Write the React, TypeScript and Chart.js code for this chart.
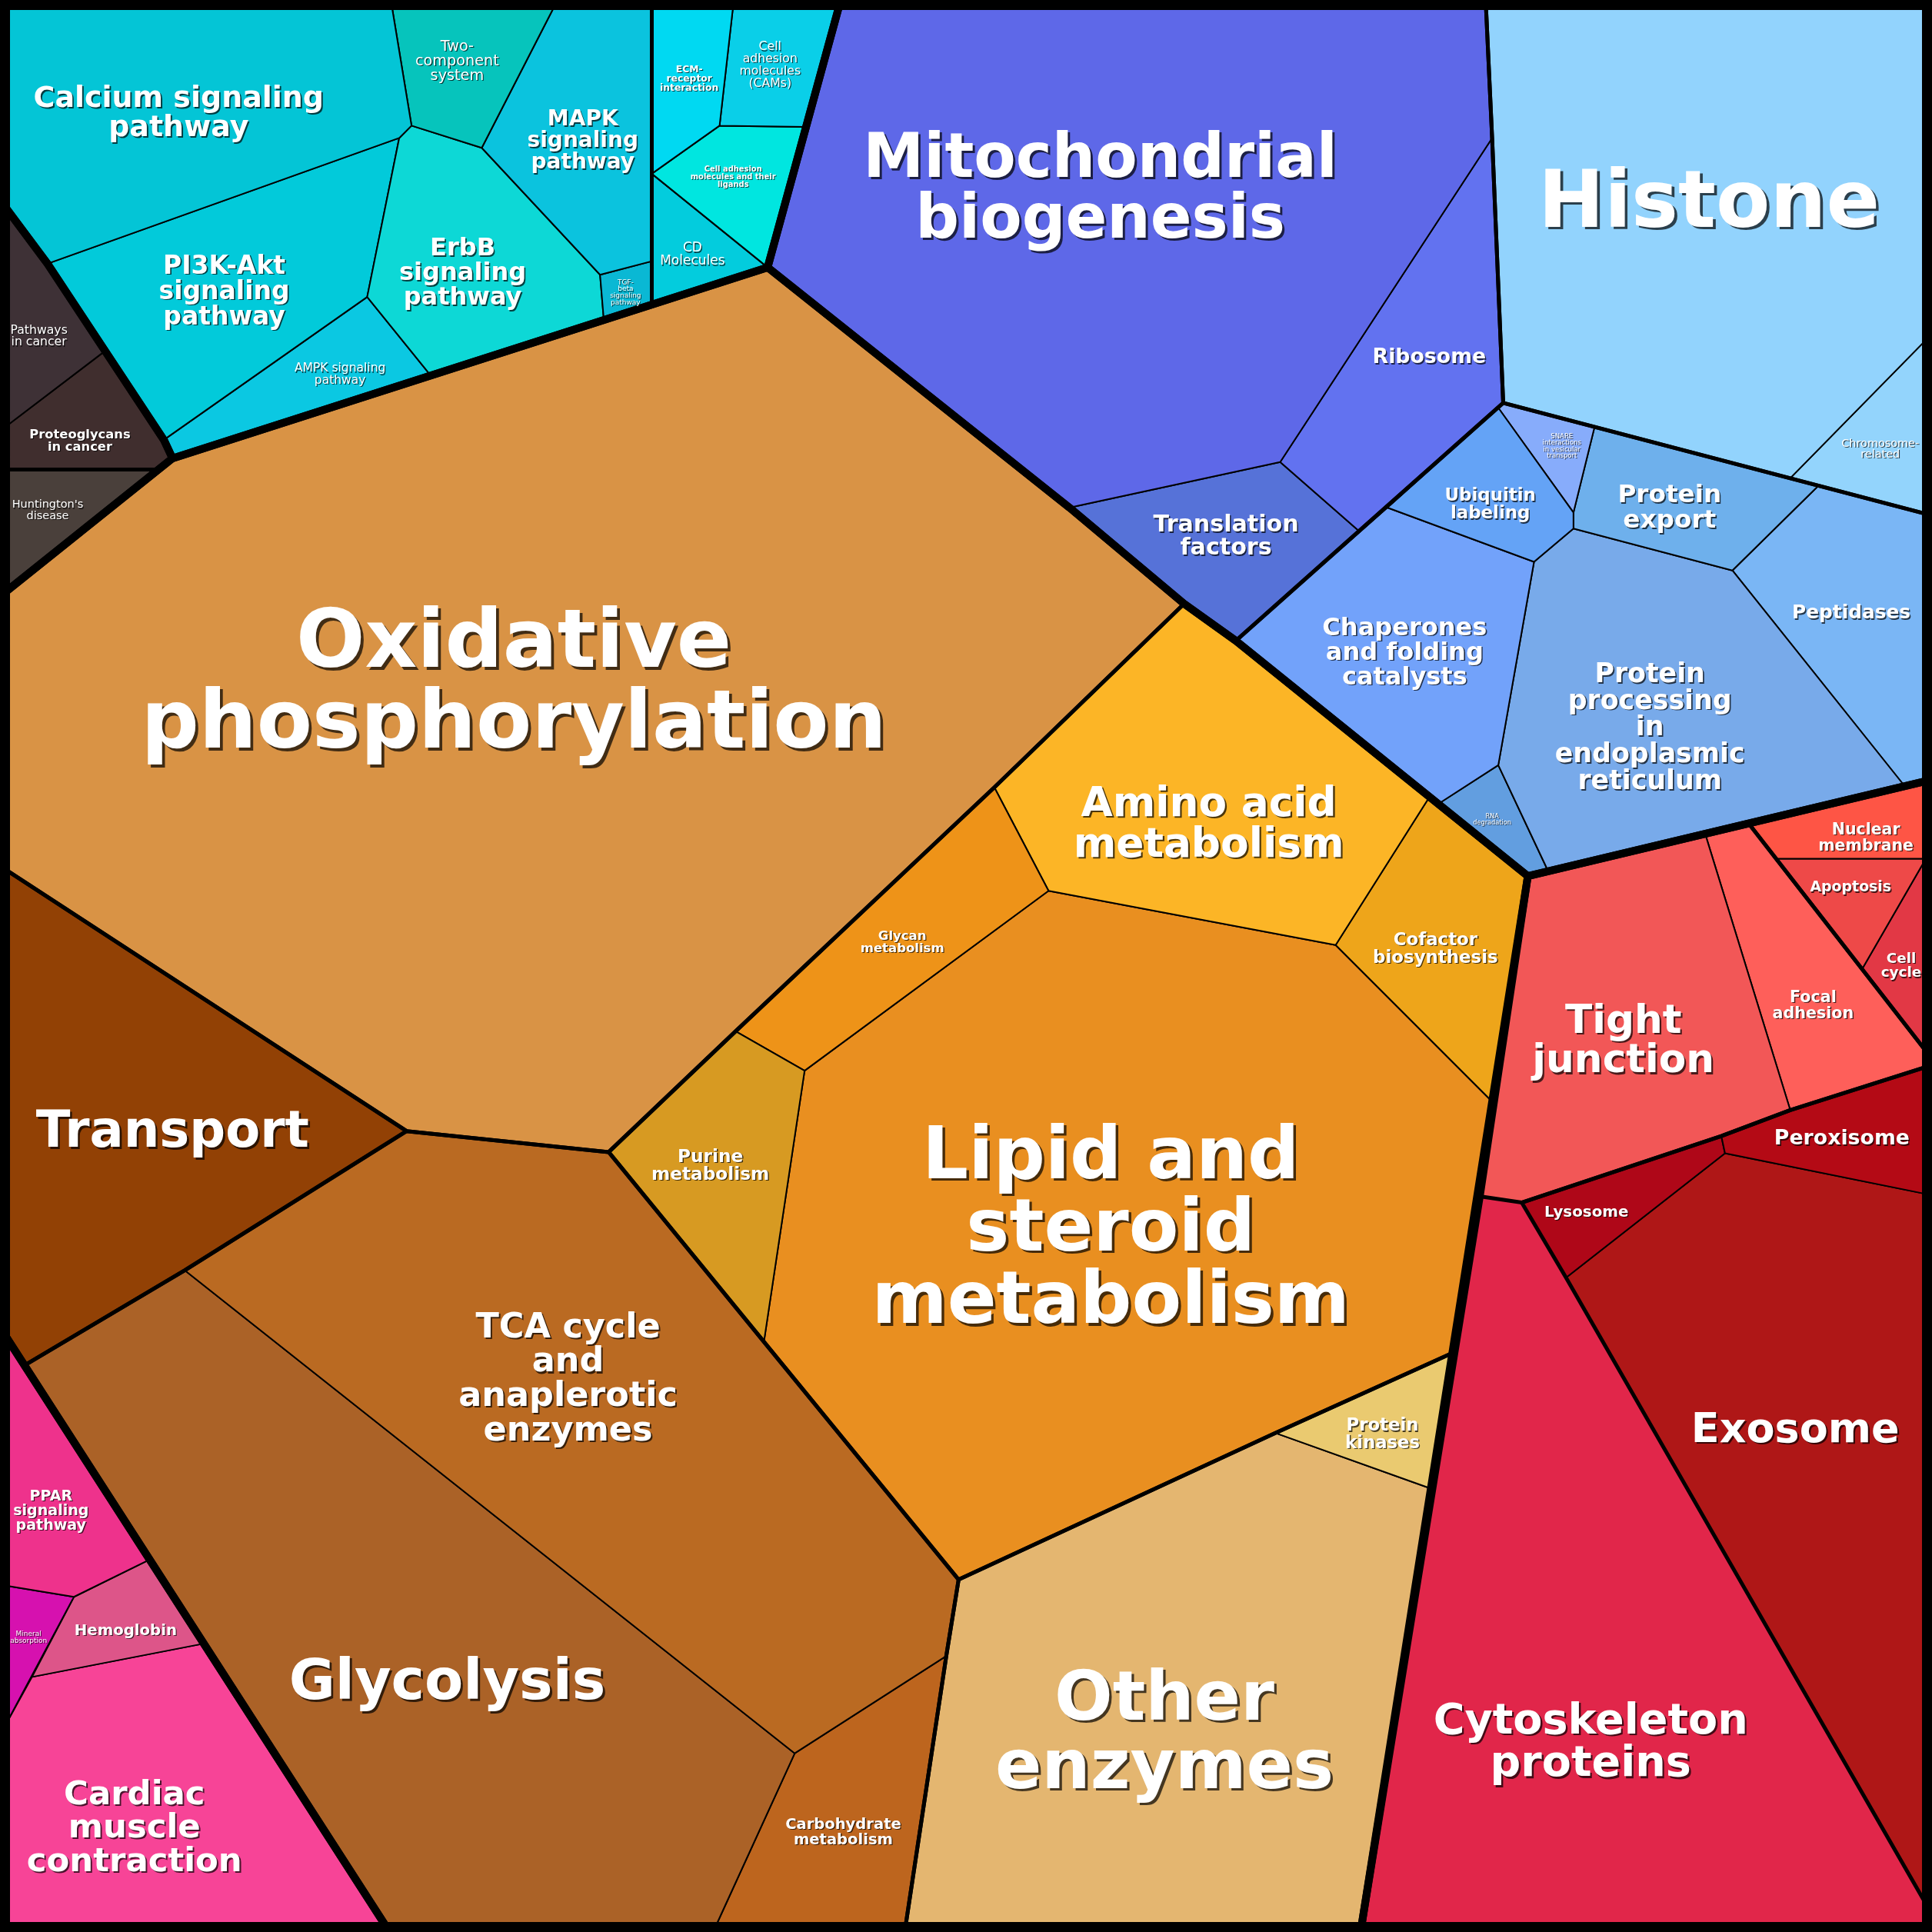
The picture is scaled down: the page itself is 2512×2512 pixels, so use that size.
import React, { useEffect, useRef } from "react";
import { Chart, registerables } from "chart.js";

Chart.register(...registerables);

type Pt = [number, number];

// Frame of the Voronoi treemap in data units (0..1568 on both axes, y downward)
const axisMax = 1568;

const cellLabels: string[] = [
  "Calcium signaling\npathway",
  "Two-\ncomponent\nsystem",
  "MAPK\nsignaling\npathway",
  "TGF-\nbeta\nsignaling\npathway",
  "ErbB\nsignaling\npathway",
  "PI3K-Akt\nsignaling\npathway",
  "AMPK signaling\npathway",
  "ECM-\nreceptor\ninteraction",
  "Cell\nadhesion\nmolecules\n(CAMs)",
  "Cell adhesion\nmolecules and their\nligands",
  "CD\nMolecules",
  "Pathways\nin cancer",
  "Proteoglycans\nin cancer",
  "Huntington's\ndisease",
  "Mitochondrial\nbiogenesis",
  "Ribosome",
  "Translation\nfactors",
  "Histone",
  "Chromosome-\nrelated",
  "Ubiquitin\nlabeling",
  "SNARE\ninteractions\nin vesicular\ntransport",
  "Protein\nexport",
  "Chaperones\nand folding\ncatalysts",
  "Protein\nprocessing\nin\nendoplasmic\nreticulum",
  "Peptidases",
  "RNA\ndegradation",
  "Oxidative\nphosphorylation",
  "Transport",
  "TCA cycle\nand\nanaplerotic\nenzymes",
  "Glycolysis",
  "Carbohydrate\nmetabolism",
  "Purine\nmetabolism",
  "Glycan\nmetabolism",
  "Amino acid\nmetabolism",
  "Cofactor\nbiosynthesis",
  "Lipid and\nsteroid\nmetabolism",
  "Protein\nkinases",
  "Other\nenzymes",
  "Tight\njunction",
  "Focal\nadhesion",
  "Nuclear\nmembrane",
  "Apoptosis",
  "Cell\ncycle",
  "Peroxisome",
  "Lysosome",
  "Exosome",
  "Cytoskeleton\nproteins",
  "PPAR\nsignaling\npathway",
  "Mineral\nabsorption",
  "Hemoglobin",
  "Cardiac\nmuscle\ncontraction",
];

// Cell polygons (vertices in data units), same order as the labels
const cellPolygons: Pt[][] = [
  [[5, 5], [318, 5], [334, 102], [324, 112], [38.5, 214], [5, 169]],
  [[318, 5], [450, 5], [391, 120], [334, 102]],
  [[450, 5], [529, 5], [529, 212], [487, 223], [391, 120]],
  [[487, 223], [529, 212], [529, 247], [490, 259]],
  [[324, 112], [334, 102], [391, 120], [487, 223], [490, 259], [349, 304], [298, 241]],
  [[38.5, 214], [324, 112], [298, 241], [133, 357]],
  [[133, 357], [298, 241], [349, 304], [140, 372]],
  [[529, 5], [595, 5], [584, 102], [529, 141]],
  [[595, 5], [681, 5], [654, 103], [584, 102]],
  [[584, 102], [654, 103], [623, 217], [529, 141]],
  [[529, 141], [623, 217], [529, 247]],
  [[5, 169], [38.5, 214], [85, 285], [5, 346]],
  [[5, 346], [85, 285], [133, 357], [140, 372], [129, 381], [5, 381]],
  [[5, 381], [129, 381], [5, 480]],
  [[681, 5], [1206, 5], [1211, 112], [1039, 375], [868, 412], [623, 217]],
  [[1211, 112], [1220, 327], [1103, 431], [1039, 375]],
  [[868, 412], [1039, 375], [1103, 431], [1003, 520], [961, 490]],
  [[1206, 5], [1563, 5], [1563, 276], [1453, 388], [1220, 327], [1211, 112]],
  [[1563, 276], [1563, 417], [1453, 388]],
  [[1216, 331], [1277, 416], [1277, 429], [1245, 456], [1126, 412]],
  [[1216, 331], [1220, 327], [1294, 347], [1277, 416]],
  [[1294, 347], [1476, 394], [1406, 463], [1277, 429], [1277, 416]],
  [[1126, 412], [1245, 456], [1216, 621], [1168, 652], [1003, 520]],
  [[1245, 456], [1277, 429], [1406, 463], [1545, 637], [1256, 706], [1216, 621]],
  [[1476, 394], [1563, 417], [1563, 634], [1545, 637], [1406, 463]],
  [[1168, 652], [1216, 621], [1256, 706], [1240, 711]],
  [[5, 480], [140, 372], [623, 217], [868, 412], [961, 490], [807, 639], [597, 837], [494, 935], [330, 918], [5, 706]],
  [[5, 706], [330, 918], [150, 1031], [20, 1108], [5, 1085]],
  [[330, 918], [494, 935], [620, 1089], [778, 1282], [768, 1344], [645, 1423], [150, 1031]],
  [[20, 1108], [150, 1031], [645, 1423], [581, 1563], [313, 1563]],
  [[645, 1423], [768, 1344], [735, 1563], [581, 1563]],
  [[494, 935], [597, 837], [653, 869], [620, 1089]],
  [[597, 837], [807, 639], [851, 723], [653, 869]],
  [[807, 639], [961, 490], [1003, 520], [1160, 647], [1084, 767], [851, 723]],
  [[1160, 647], [1240, 711], [1211, 894], [1084, 767]],
  [[653, 869], [851, 723], [1084, 767], [1211, 894], [1179, 1098], [1035, 1163], [778, 1282], [620, 1089]],
  [[1035, 1163], [1179, 1098], [1161, 1208]],
  [[778, 1282], [1035, 1163], [1161, 1208], [1105, 1563], [735, 1563], [768, 1344]],
  [[1240, 711], [1384, 677], [1453, 901], [1397, 922], [1235, 976], [1201, 971]],
  [[1384, 677], [1419, 668], [1563, 853], [1563, 866], [1453, 901]],
  [[1419, 668], [1563, 634], [1563, 697], [1441, 697]],
  [[1441, 697], [1563, 697], [1511, 787]],
  [[1563, 697], [1563, 853], [1511, 787]],
  [[1397, 922], [1453, 901], [1563, 866], [1563, 969], [1400, 936]],
  [[1235, 976], [1397, 922], [1400, 936], [1271, 1037]],
  [[1400, 936], [1563, 969], [1563, 1545], [1271, 1037]],
  [[1201, 971], [1235, 976], [1271, 1037], [1563, 1545], [1563, 1563], [1105, 1563]],
  [[5, 1085], [121, 1266], [60, 1296], [5, 1287]],
  [[5, 1287], [60, 1296], [5, 1399]],
  [[60, 1296], [121, 1266], [165, 1334], [26, 1361]],
  [[26, 1361], [165, 1334], [313, 1563], [5, 1563], [5, 1399]],
];

// Label anchor (site) of every cell, data units
const labelSites: Pt[] = [
  [145, 90], [371, 48.6], [473, 113], [507.7, 237], [375.5, 220], [182, 235], [276, 303],
  [559.4, 63.3], [625, 52], [595, 143], [562, 205.7],
  [31.6, 272], [64.9, 357], [38.7, 413.5],
  [893, 150], [1160, 288.5], [995, 434],
  [1387, 160.5], [1526, 363.6],
  [1209.5, 408.5], [1267.6, 361.6], [1355, 410.5], [1140, 528], [1339, 589], [1502.5, 496.5], [1211, 665],
  [417, 550], [140, 916], [461, 1117], [363, 1362], [684.4, 1486], [576.5, 945], [732.3, 764],
  [981, 666.5], [1165, 769], [901.5, 993.5], [1122, 1163], [945, 1403],
  [1317.5, 842.4], [1471.5, 815], [1514.4, 679], [1502, 719.3], [1543, 783], [1494.9, 922.7],
  [1287.6, 982.8], [1457, 1158], [1291, 1411.5],
  [41.4, 1225.4], [23.2, 1328.6], [102, 1322.3], [109.1, 1481.4],
];

// Top-level group outlines
const groupOutlines: Pt[][] = [
  [[5, 5], [681, 5], [623, 217], [140, 372], [133, 357], [38.5, 214], [5, 169]],
  [[5, 169], [38.5, 214], [133, 357], [140, 372], [5, 480]],
  [[681, 5], [1563, 5], [1563, 634], [1240, 711], [1003, 520], [961, 490], [868, 412], [623, 217]],
  [[5, 480], [140, 372], [623, 217], [868, 412], [961, 490], [1003, 520], [1240, 711], [1105, 1563], [313, 1563], [5, 1085]],
  [[1240, 711], [1563, 634], [1563, 1563], [1105, 1563], [1201, 971]],
  [[5, 1085], [313, 1563], [5, 1563]],
];

// Second-level group outlines
const subgroupOutlines: Pt[][] = [
  [[529, 5], [681, 5], [623, 217], [529, 247]],
  [[5, 381], [129, 381], [5, 480]],
  [[681, 5], [1206, 5], [1211, 112], [1220, 327], [1103, 431], [1003, 520], [961, 490], [868, 412], [623, 217]],
  [[1206, 5], [1563, 5], [1563, 417], [1220, 327], [1211, 112]],
  [[1220, 327], [1563, 417], [1563, 634], [1240, 711], [1003, 520]],
  [[5, 480], [140, 372], [623, 217], [868, 412], [961, 490], [807, 639], [597, 837], [494, 935], [330, 918], [5, 706]],
  [[5, 706], [330, 918], [150, 1031], [20, 1108], [5, 1085]],
  [[330, 918], [494, 935], [620, 1089], [778, 1282], [768, 1344], [735, 1563], [313, 1563], [20, 1108], [150, 1031]],
  [[494, 935], [597, 837], [807, 639], [961, 490], [1003, 520], [1240, 711], [1211, 894], [1179, 1098], [1035, 1163], [778, 1282], [620, 1089]],
  [[778, 1282], [1035, 1163], [1179, 1098], [1161, 1208], [1105, 1563], [735, 1563], [768, 1344]],
  [[1240, 711], [1384, 677], [1419, 668], [1563, 853], [1563, 866], [1453, 901], [1397, 922], [1235, 976], [1201, 971]],
  [[1419, 668], [1563, 634], [1563, 853]],
  [[1235, 976], [1397, 922], [1453, 901], [1563, 866], [1563, 1545], [1271, 1037]],
];

// ---- styles ----
const cellColors: string[] = [
  "#04C5D6", "#06C4BC", "#0BC3DE", "#0AB8D4", "#0DD8D6", "#02CADA", "#0BC8E2",
  "#00D9F2", "#0ACFE8", "#00E6E0", "#03CCDD",
  "#3E3136", "#402E2E", "#4A403B",
  "#5E68E8", "#6272F0", "#5672D8",
  "#92D3FD", "#93D4FC",
  "#64A3F6", "#87ACFB", "#6EB0EC", "#72A2FA", "#78AAEA", "#7AB6F5", "#629EE0",
  "#D99345", "#924105", "#BA6A22", "#AB6227", "#BD651E", "#D79A22", "#EE9318",
  "#FCB526", "#EEA51A", "#E98F20", "#EACA70", "#E4B670",
  "#F25757", "#FE5F5A", "#FE5545", "#EE4948", "#E23845", "#B40A15",
  "#AF0718", "#AF1717", "#E1264A",
  "#EE328C", "#D611AF", "#DD5589", "#F74497",
];

const labelSizes: number[] = [
  23.7, 12, 17.5, 5.6, 20, 20.6, 9.7,
  7.7, 9.8, 6.2, 10.6,
  9.8, 10.2, 9.05,
  49.5, 16.7, 18.8,
  64, 9,
  14.3, 5.3, 20.4, 20, 21.7, 15.5, 5.1,
  65.7, 40.9, 27.8, 45.7, 12.2, 14.5, 10.3,
  33.3, 14.3, 58.8, 14.2, 55.6,
  32.3, 12.9, 12.8, 11.8, 11.5, 16.7,
  12.4, 33.7, 34.7,
  11.9, 5.6, 12.3, 27.1,
];

const regularLabels: number[] = [1, 3, 6, 8, 10, 11, 13, 18, 20, 25, 48];

const closed = (poly: Pt[]) => [...poly, poly[0]].map(([x, y]) => ({ x, y }));

const backgroundPlugin = {
  id: "bgBlack",
  beforeDraw(chart: any) {
    const ctx = chart.ctx;
    ctx.save();
    ctx.fillStyle = "#000";
    ctx.fillRect(0, 0, chart.width, chart.height);
    ctx.restore();
  },
};

const labelPlugin = {
  id: "cellLabels",
  afterDatasetsDraw(chart: any) {
    const ctx: CanvasRenderingContext2D = chart.ctx;
    const sx = chart.scales.x;
    const sy = chart.scales.y;
    const unit = Math.abs(sx.getPixelForValue(1) - sx.getPixelForValue(0));
    ctx.save();
    ctx.textAlign = "center";
    ctx.textBaseline = "alphabetic";
    cellLabels.forEach((label, i) => {
      const fs = labelSizes[i] * unit;
      const weight = regularLabels.includes(i) ? "normal" : "bold";
      ctx.font = `${weight} ${fs}px "DejaVu Sans"`;
      const lines = label.split("\n");
      const cx = sx.getPixelForValue(labelSites[i][0]);
      const cy = sy.getPixelForValue(labelSites[i][1]);
      const lh = fs;
      const d = 0.8 + fs * 0.028;
      lines.forEach((ln, k) => {
        const by = cy + (k - (lines.length - 1) / 2) * lh + 0.365 * fs;
        ctx.fillStyle = "rgba(0,0,0,0.7)";
        ctx.fillText(ln, cx + d, by + d);
        ctx.fillStyle = "#FFFFFF";
        ctx.fillText(ln, cx, by);
      });
    });
    ctx.restore();
  },
};

export default function App() {
  const ref = useRef<HTMLCanvasElement>(null);
  useEffect(() => {
    const datasets: any[] = [];
    cellPolygons.forEach((poly, i) => {
      datasets.push({
        label: cellLabels[i].replace(/\n/g, " "),
        data: closed(poly),
        backgroundColor: cellColors[i],
        borderColor: "#000",
        borderWidth: 2,
        borderJoinStyle: "round",
        fill: "shape",
        pointRadius: 0,
        tension: 0,
        order: 3,
      });
    });
    subgroupOutlines.forEach((poly) => {
      datasets.push({
        data: closed(poly),
        borderColor: "#000",
        backgroundColor: "rgba(0,0,0,0)",
        borderWidth: 5,
        borderJoinStyle: "round",
        fill: false,
        pointRadius: 0,
        tension: 0,
        order: 2,
      });
    });
    groupOutlines.forEach((poly) => {
      datasets.push({
        data: closed(poly),
        borderColor: "#000",
        backgroundColor: "rgba(0,0,0,0)",
        borderWidth: 10,
        borderJoinStyle: "round",
        fill: false,
        pointRadius: 0,
        tension: 0,
        order: 1,
      });
    });
    const chart = new Chart(ref.current as HTMLCanvasElement, {
      type: "line",
      data: { datasets },
      options: {
        animation: false,
        responsive: false,
        devicePixelRatio: 1,
        events: [],
        layout: { padding: 0 },
        scales: {
          x: { type: "linear", min: 0, max: axisMax, display: false },
          y: { type: "linear", min: 0, max: axisMax, reverse: true, display: false },
        },
        plugins: {
          legend: { display: false },
          tooltip: { enabled: false },
        },
      },
      plugins: [backgroundPlugin, labelPlugin],
    } as any);
    return () => chart.destroy();
  }, []);
  return (
    <div style={{ position: "absolute", left: 0, top: 0, width: 2512, height: 2512 }}>
      <canvas ref={ref} width={2512} height={2512} style={{ display: "block", width: 2512, height: 2512 }} />
    </div>
  );
}
